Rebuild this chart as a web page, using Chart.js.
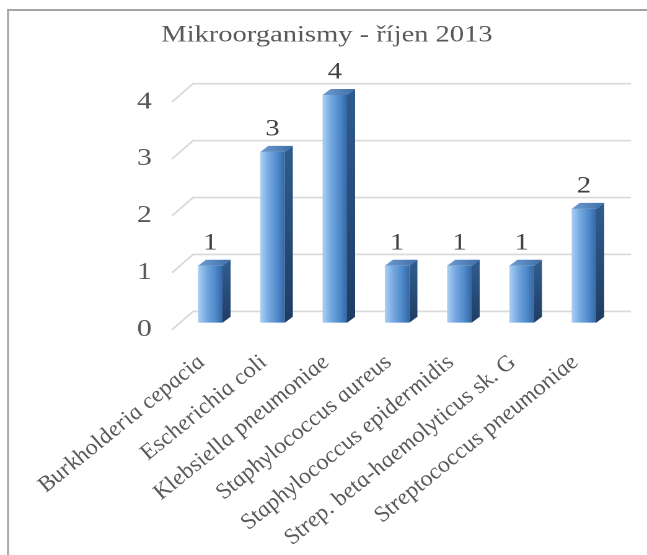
<!DOCTYPE html>
<html>
<head>
<meta charset="utf-8">
<script src="https://cdn.jsdelivr.net/npm/chart.js@4.4.1/dist/chart.umd.min.js"></script>
<style>
    html, body { margin: 0; background: #fff; overflow: hidden; width: 647px; height: 555px; }
    /* the original picture is stretched sideways, so the chart is drawn narrower and scaled */
    #stage { position: absolute; left: 0; top: 0; width: 522px; height: 555px; transform: scaleX(1.2395); transform-origin: 0 0; }
</style>
</head>
<body>
<div id="stage"><canvas id="bar"></canvas></div>
<script>
const categories = ['Burkholderia cepacia', 'Escherichia coli', 'Klebsiella pneumoniae', 'Staphylococcus aureus',
    'Staphylococcus epidermidis', 'Strep. beta-haemolyticus sk. G', 'Streptococcus pneumoniae'];
const counts = [1, 3, 4, 1, 1, 1, 2];
const yTicks = [0, 1, 2, 3, 4];
const chartTitle = 'Mikroorganismy - říjen 2013';

const SERIF = "'Liberation Serif', 'Times New Roman', serif";
const depthX = 6.5, depthY = -6;
const barPct = 0.394;

// Horizontal gradient across the front face of each bar
function frontFill(c) {
    let chart = c.chart;
    let xScale = chart.scales.x;
    if (!xScale || !chart.chartArea) return '#5b9bd5';
    let cx = xScale.getPixelForValue(c.dataIndex);
    let half = xScale.width / categories.length * barPct / 2;
    let g = chart.ctx.createLinearGradient(cx - half, 0, cx + half, 0);
    g.addColorStop(0, '#aed0f2');
    g.addColorStop(0.35, '#74a8e0');
    g.addColorStop(0.7, '#508acb');
    g.addColorStop(1, '#3467a3');
    return g;
}

// Chart frame (only its top and left edges are inside the picture)
const framePlugin = {
    id: 'frame',
    beforeDraw(chart) {
        let ctx = chart.ctx;
        ctx.save();
        ctx.fillStyle = '#a3a3a3';
        ctx.fillRect(5.65, 9, 1.6, chart.height - 9);
        ctx.fillRect(5.65, 9, chart.width - 5.65, 2);
        ctx.restore();
    }
};

// Back wall gridlines and the slanted side wall lines
const wallPlugin = {
    id: 'walls',
    beforeDatasetsDraw(chart) {
        let ctx = chart.ctx, area = chart.chartArea, y = chart.scales.y;
        ctx.save();
        ctx.strokeStyle = '#d9d9d9';
        ctx.lineWidth = 1.6;
        yTicks.forEach(v => {
            let py = y.getPixelForValue(v);
            ctx.beginPath();
            ctx.moveTo(area.left - 5.7, py + 7);
            ctx.lineTo(area.left + 11.2, py - 11.3);
            ctx.lineTo(area.right + 12.9, py - 11.3);
            ctx.stroke();
        });
        ctx.restore();
    }
};

// Side and top faces of the bars, then the value labels
const facesPlugin = {
    id: 'faces',
    afterDatasetsDraw(chart) {
        let ctx = chart.ctx;
        let meta = chart.getDatasetMeta(0);
        let values = chart.data.datasets[0].data;
        ctx.save();
        meta.data.forEach((bar, i) => {
            let p = bar.getProps(['x', 'y', 'base', 'width'], true);
            let l = p.x - p.width / 2, r = p.x + p.width / 2;
            // side
            let gs = ctx.createLinearGradient(0, p.y, 0, p.base);
            gs.addColorStop(0, '#2f5b8c');
            gs.addColorStop(1, '#1f3d63');
            ctx.fillStyle = gs;
            ctx.beginPath();
            ctx.moveTo(r, p.y);
            ctx.lineTo(r + depthX, p.y + depthY);
            ctx.lineTo(r + depthX, p.base + depthY);
            ctx.lineTo(r, p.base);
            ctx.closePath();
            ctx.fill();
            // top
            let gt = ctx.createLinearGradient(l, 0, r + depthX, 0);
            gt.addColorStop(0, '#6d9dd3');
            gt.addColorStop(1, '#3e6ea5');
            ctx.fillStyle = gt;
            ctx.beginPath();
            ctx.moveTo(l, p.y);
            ctx.lineTo(l + depthX, p.y + depthY);
            ctx.lineTo(r + depthX, p.y + depthY);
            ctx.lineTo(r, p.y);
            ctx.closePath();
            ctx.fill();
            // value label
            ctx.fillStyle = '#404040';
            ctx.font = '23px ' + SERIF;
            ctx.textAlign = 'center';
            ctx.textBaseline = 'alphabetic';
            ctx.fillText(String(values[i]), p.x, p.y - 16.5);
        });
        ctx.restore();
    }
};

new Chart(document.getElementById('bar'), {
    type: 'bar',
    data: {
        labels: categories,
        datasets: [{
            data: counts,
            backgroundColor: frontFill,
            borderWidth: 0,
            barPercentage: barPct,
            categoryPercentage: 1
        }]
    },
    options: {
        responsive: true,
        maintainAspectRatio: false,
        animation: false,
        devicePixelRatio: 2,
        layout: {
            padding: { left: 31.4, right: 25.8, top: 0, bottom: 0 }
        },
        plugins: {
            legend: { display: false },
            tooltip: { enabled: false },
            title: {
                display: true,
                text: chartTitle,
                color: '#595959',
                font: { family: SERIF, size: 23, weight: 'normal' },
                padding: { top: 21.7, bottom: 45.7 }
            }
        },
        scales: {
            x: {
                grid: { display: false, drawTicks: false },
                border: { display: false },
                ticks: {
                    color: '#595959',
                    font: { family: SERIF, size: 21, style: 'italic' },
                    minRotation: 45,
                    maxRotation: 45,
                    padding: 28,
                    labelOffset: -7,
                    autoSkip: false
                },
                afterFit(scale) { scale.height = 232.3; }
            },
            y: {
                min: 0,
                max: 4,
                grid: { display: false, drawTicks: false },
                border: { display: false },
                afterBuildTicks(scale) { scale.ticks = yTicks.map(v => ({ value: v })); },
                ticks: {
                    color: '#595959',
                    font: { family: SERIF, size: 24 },
                    padding: 22,
                    labelOffset: 7
                },
                afterFit(scale) { scale.width = 113.1; }
            }
        }
    },
    plugins: [framePlugin, wallPlugin, facesPlugin]
});
</script>
</body>
</html>
